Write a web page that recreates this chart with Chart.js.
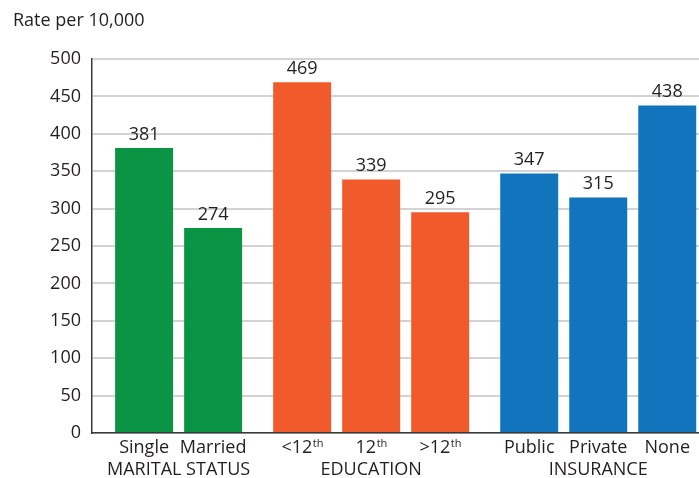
<!DOCTYPE html>
<html>
<head>
<meta charset="utf-8">
<script src="https://cdn.jsdelivr.net/npm/chart.js@4"></script>
<style>
  html, body { margin: 0; padding: 0; background: #fff; }
  #wrap { width: 699px; height: 478px; position: relative; }
</style>
</head>
<body>
<div id="wrap"><canvas id="rateChart"></canvas></div>
<script>
// Rates per 10,000 by group
const groups = ["MARITAL STATUS", "EDUCATION", "INSURANCE"];
const categories = ["Single", "Married", "<12", "12", ">12", "Public", "Private", "None"];
const superscripts = ["", "", "th", "th", "th", "", "", ""];
const groupOf = [0, 0, 1, 1, 1, 2, 2, 2];
const rates = [381, 274, 469, 339, 295, 347, 315, 438];
const yTicks = [0, 50, 100, 150, 200, 250, 300, 350, 400, 450, 500];

const groupColors = ["#0b9444", "#f15a2b", "#1174bc"];
const FONT = "'Open Sans', sans-serif";
const SIZE = 18;
const GROUP_GAP = 0.29; // extra space between groups, in bar steps

// x position of each bar: one step per bar, a little more between groups
const positions = [];
let pos = 0;
categories.forEach((c, i) => {
  if (i > 0) {
    pos += 1;
    if (groupOf[i] !== groupOf[i - 1]) pos += GROUP_GAP;
  }
  positions.push(pos);
});

const labelPlugin = {
  id: "labels",
  afterDatasetsDraw(chart) {
    const ctx = chart.ctx;
    const xs = chart.scales.x;
    const meta = chart.getDatasetMeta(0);
    ctx.save();
    ctx.fillStyle = "#231f20";
    ctx.textBaseline = "alphabetic";

    // value above each bar
    ctx.font = SIZE + "px " + FONT;
    ctx.textAlign = "center";
    meta.data.forEach((bar, i) => {
      ctx.fillText(String(rates[i]), bar.x, bar.y - 8);
    });

    // category names with optional superscript
    const baseY = chart.chartArea.bottom + 20;
    categories.forEach((c, i) => {
      const cx = xs.getPixelForValue(positions[i]);
      ctx.font = SIZE + "px " + FONT;
      const w1 = ctx.measureText(c).width;
      let w2 = 0;
      if (superscripts[i]) {
        ctx.font = "11px " + FONT;
        w2 = ctx.measureText(superscripts[i]).width;
      }
      const left = cx - (w1 + w2) / 2;
      ctx.textAlign = "left";
      ctx.font = SIZE + "px " + FONT;
      ctx.fillText(c, left, baseY);
      if (superscripts[i]) {
        ctx.font = "11px " + FONT;
        ctx.fillText(superscripts[i], left + w1 + 0.5, baseY - 6);
      }
    });

    // group names centred under their bars
    ctx.font = SIZE + "px " + FONT;
    ctx.textAlign = "center";
    groups.forEach((g, gi) => {
      const idx = groupOf.map((v, i) => (v === gi ? i : -1)).filter(i => i >= 0);
      const a = xs.getPixelForValue(positions[idx[0]]);
      const b = xs.getPixelForValue(positions[idx[idx.length - 1]]);
      ctx.fillText(g, (a + b) / 2, baseY + 22);
    });

    // axis title
    ctx.textAlign = "left";
    ctx.font = SIZE + "px " + FONT;
    ctx.fillText("Rate per 10,000", 13, 26);
    ctx.restore();
  }
};

new Chart(document.getElementById("rateChart"), {
  type: "bar",
  data: {
    datasets: [{
      data: rates.map((r, i) => ({ x: positions[i], y: r })),
      backgroundColor: groupOf.map(g => groupColors[g]),
      borderWidth: 0,
      categoryPercentage: 1,
      barPercentage: 0.84
    }]
  },
  options: {
    responsive: true,
    maintainAspectRatio: false,
    animation: false,
    layout: { padding: { top: 59, right: 0, left: 0, bottom: 0 } },
    plugins: { legend: { display: false }, tooltip: { enabled: false } },
    scales: {
      x: {
        type: "linear",
        offset: false,
        min: -0.755,
        max: 8.04,
        ticks: { display: false },
        grid: { display: false },
        border: { display: true, color: "#3a3a3a", width: 1.5 },
        afterFit(scale) { scale.height = 45; }
      },
      y: {
        min: 0,
        max: 500,
        afterBuildTicks(scale) { scale.ticks = yTicks.map(v => ({ value: v })); },
        ticks: {
          color: "#231f20",
          font: { family: FONT, size: SIZE },
          padding: 11
        },
        grid: { color: "#d3d3d3", lineWidth: 2, drawTicks: false },
        border: { display: true, color: "#3a3a3a", width: 1.5 },
        afterFit(scale) { scale.width = 92; }
      }
    }
  },
  plugins: [labelPlugin]
});
</script>
</body>
</html>
